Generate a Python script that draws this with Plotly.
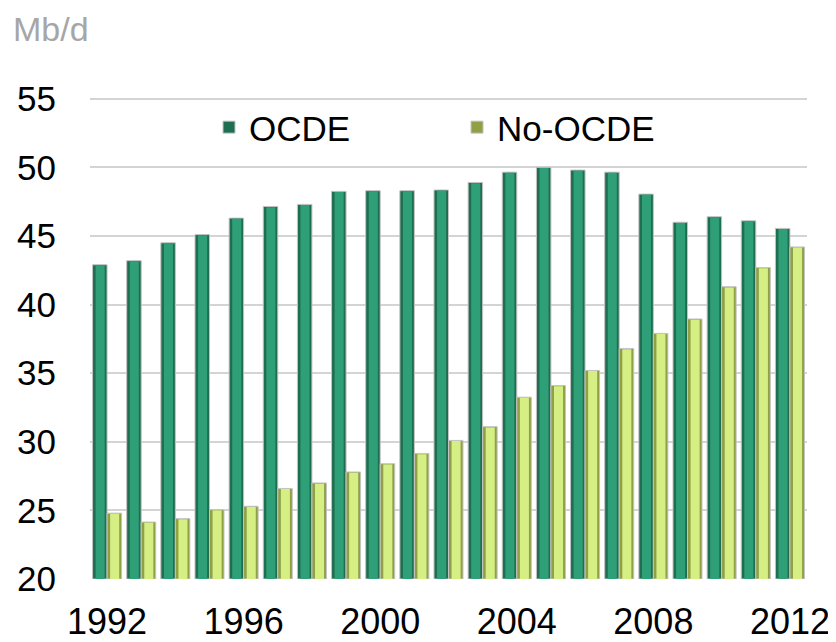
import plotly.graph_objects as go

# oil demand, million barrels per day
years = list(range(1992, 2013))
ocde = [42.9, 43.2, 44.5, 45.1, 46.3, 47.15, 47.3, 48.25, 48.3, 48.3, 48.35,
        48.9, 49.65, 50.0, 49.8, 49.65, 48.05, 46.0, 46.4, 46.1, 45.55]
no_ocde = [24.8, 24.15, 24.4, 25.05, 25.3, 26.6, 27.0, 27.8, 28.4, 29.15, 30.1,
           31.1, 33.25, 34.1, 35.2, 36.8, 37.9, 38.95, 41.3, 42.7, 44.2]
y_ticks = [20, 25, 30, 35, 40, 45, 50, 55]
x_ticks = [1992, 1996, 2000, 2004, 2008, 2012]

BW = 0.425  # width of one bar, in years
BASE = 20

fig = go.Figure()

# base bars (darker edges of the "cylinder")
fig.add_trace(go.Bar(x=years, y=[v - BASE for v in ocde], name='OCDE', base=BASE,
                     offset=-BW, width=BW,
                     marker=dict(color='#1f6e51', line=dict(color='#c4c4c4', width=1))))
fig.add_trace(go.Bar(x=years, y=[v - BASE for v in no_ocde], name='No-OCDE', base=BASE,
                     offset=0, width=BW,
                     marker=dict(color='#8fa045', line=dict(color='#c4c4c4', width=1))))

# lighter centre of each bar
fig.add_trace(go.Bar(x=years, y=[v - BASE - 0.05 for v in ocde], base=BASE,
                     showlegend=False, hoverinfo='skip',
                     offset=-BW + 0.09, width=BW - 0.16,
                     marker=dict(color='#2f9f78', line=dict(width=0))))
fig.add_trace(go.Bar(x=years, y=[v - BASE - 0.05 for v in no_ocde], base=BASE,
                     showlegend=False, hoverinfo='skip',
                     offset=0.09, width=BW - 0.16,
                     marker=dict(color='#d6ef85', line=dict(width=0))))

# page body has an 8px margin, so margins are shifted by 8
fig.update_layout(
    width=836, height=642,
    barmode='overlay',
    paper_bgcolor='white', plot_bgcolor='white',
    margin=dict(l=82, r=37, t=88, b=71, autoexpand=False),
    font=dict(family='Liberation Sans, Arial, sans-serif', color='#000000'),
    showlegend=True,
    legend=dict(orientation='h', x=0.166, xanchor='left', y=0.935, yanchor='middle',
                font=dict(size=35), entrywidth=203, bgcolor='rgba(0,0,0,0)',
                traceorder='normal'),
    annotations=[dict(text='Mb/d', xref='paper', yref='paper', x=-0.11, y=1.139,
                      xanchor='left', yanchor='middle', showarrow=False,
                      font=dict(size=34, color='#a6a6a6'))],
)
fig.update_xaxes(range=[1991.5, 2012.5], tickvals=x_ticks, showgrid=False,
                 zeroline=False, showline=False, ticks='', automargin=False,
                 ticklabelstandoff=18, tickfont=dict(size=36))
fig.update_yaxes(range=[20, 55.2], tickvals=y_ticks, showgrid=True,
                 gridcolor='#d4d4d4', gridwidth=2, zeroline=False, showline=False,
                 ticks='', automargin=False, ticklabelstandoff=33, tickfont=dict(size=35))

fig.write_html("out.html")
